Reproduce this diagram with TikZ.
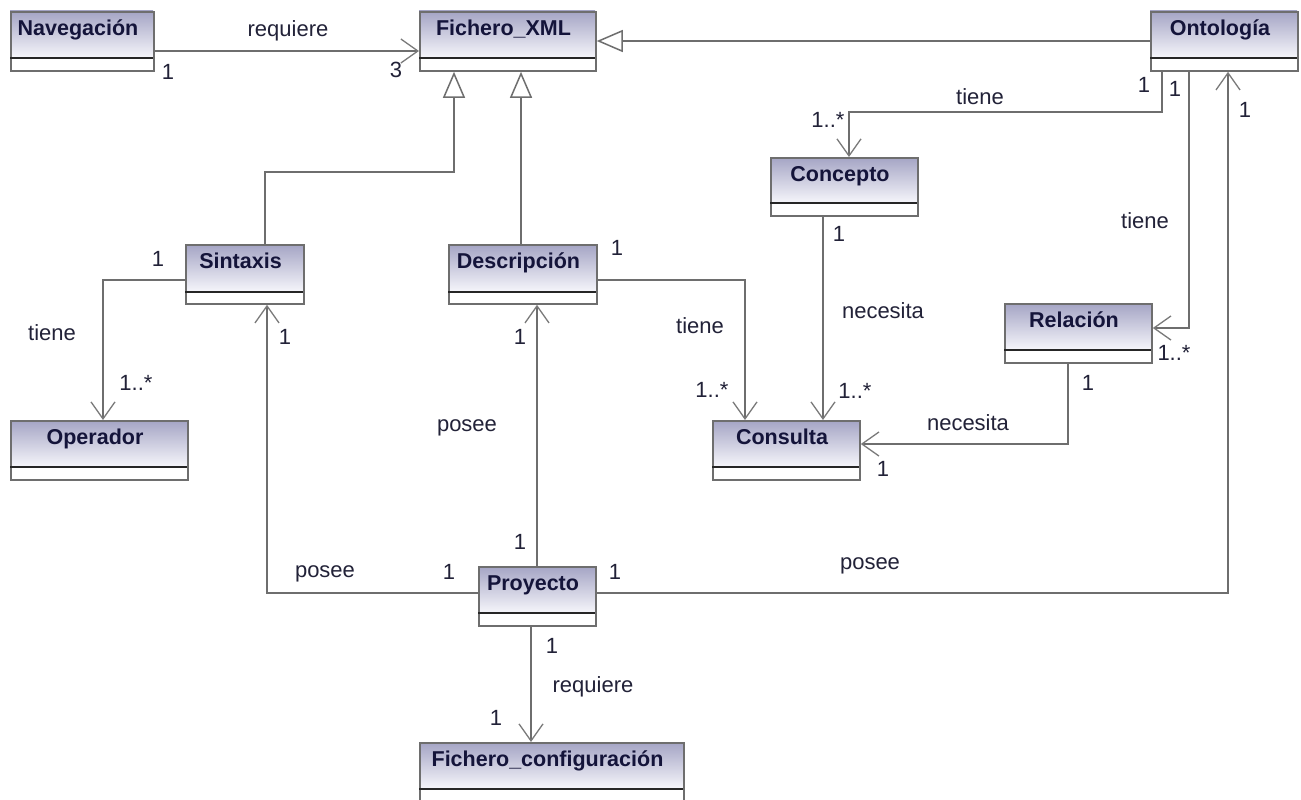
\documentclass[tikz,border=0pt]{standalone}
\usepackage{fontspec}
\setmainfont{Liberation Sans}
\usetikzlibrary{arrows.meta}

\definecolor{boxtop}{HTML}{A4A4C4}
\definecolor{boxbot}{HTML}{F6F6FB}
\definecolor{boxline}{HTML}{6E6E6E}
\definecolor{wire}{HTML}{6E6E6E}
\definecolor{barb}{HTML}{7A7A7A}
\definecolor{nametext}{HTML}{14143A}
\definecolor{labeltext}{HTML}{222238}

\tikzset{
  classframe/.style={draw=boxline, line width=1.8pt, inner sep=0pt},
  divider/.style={draw=black!85, line width=1.8pt},
  classname/.style={inner sep=0pt, text=nametext, font=\fontsize{21.5}{26}\selectfont\bfseries},
  lbl/.style={inner sep=0pt, text=labeltext, font=\fontsize{22}{26}\selectfont},
  assoc/.style={draw=wire, line width=1.8pt,
    -{Straight Barb[length=17pt, width=24pt, line width=1.3pt, color=barb]}},
  gen/.style={draw=wire, line width=1.8pt,
    -{Triangle[fill=white, length=26pt, width=22pt, line width=1.5pt]}},
}

% class box: id, left, top, right, divider, bottom, name
\newcommand\umlclass[7]{%
  \shade[top color=boxtop, bottom color=boxbot] (#2,#3) rectangle (#4,#5);
  \node[classframe, minimum width={#4-#2}, minimum height={#6-#3}, anchor=north west] (#1) at (#2,#3) {};
  \draw[divider] (#2,#5) -- (#4,#5);
  \node[classname, anchor=base] (#1-name) at ({(#2+#4)/2-3.5},{#3+24.5}) {#7};
}

\begin{document}
\begin{tikzpicture}[x=1pt, y=-1pt]
\useasboundingbox[fill=white] (0,0) rectangle (1301,800);

% classes
\umlclass{nav}{10}{11}{153}{58}{70}{Navegación}
\umlclass{fxml}{419}{11}{595}{58}{70}{Fichero\_XML}
\umlclass{onto}{1150}{11}{1297}{58}{70}{Ontología}
\umlclass{conc}{770}{157}{917}{203}{215}{Concepto}
\umlclass{sint}{185}{244}{303}{292}{303}{Sintaxis}
\umlclass{desc}{448}{244}{596}{292}{303}{Descripción}
\umlclass{rel}{1004}{303}{1151}{350}{362}{Relación}
\umlclass{oper}{10}{420}{187}{467}{479}{Operador}
\umlclass{cons}{712}{420}{859}{467}{479}{Consulta}
\umlclass{proy}{478}{566}{595}{613}{625}{Proyecto}
\umlclass{fconf}{419}{742}{683}{789}{803}{Fichero\_configuración}

% generalizations
\draw[gen] (onto.west |- 0,41) -- (fxml.east |- 0,41);
\draw[gen] (sint.north -| 265,0) |- (454,172) -- (fxml.south -| 454,0);
\draw[gen] (desc.north -| 521,0) -- (fxml.south -| 521,0);

% associations
\draw[assoc] (nav.east |- 0,51) -- (fxml.west |- 0,51);
\draw[assoc] (onto.south -| 1162,0) |- (849,112) -- (conc.north -| 849,0);
\draw[assoc] (onto.south -| 1189,0) |- (rel.east |- 0,328);
\draw[assoc] (proy.east |- 0,593) -| (onto.south -| 1228,0);
\draw[assoc] (desc.east |- 0,280) -| (cons.north -| 745,0);
\draw[assoc] (conc.south -| 823,0) -- (cons.north -| 823,0);
\draw[assoc] (rel.south -| 1068,0) |- (cons.east |- 0,444);
\draw[assoc] (sint.west |- 0,280) -| (oper.north -| 103,0);
\draw[assoc] (proy.west |- 0,593) -| (sint.south -| 267,0);
\draw[assoc] (proy.north -| 537,0) -- (desc.south -| 537,0);
\draw[assoc] (proy.south -| 531,0) -- (fconf.north -| 531,0);

% association labels and multiplicities
\node[lbl] (t-req1) at (288,31) {requiere};
\node[lbl] (m-nav) at (168,72) {1};
\node[lbl] (m-fxml) at (396,70) {3};

\node[lbl] (t-tiene1) at (980,97) {tiene};
\node[lbl] (m-conc) at (828,120) {1..*};
\node[lbl] (m-onto1) at (1144,85) {1};
\node[lbl] (m-onto2) at (1175,89) {1};
\node[lbl] (m-onto3) at (1245,110) {1};

\node[lbl] (t-tiene2) at (1145,221) {tiene};
\node[lbl] (m-rel) at (1174,353) {1..*};

\node[lbl] (m-desc) at (617,248) {1};
\node[lbl] (t-tiene3) at (700,326) {tiene};
\node[lbl] (m-cons1) at (712,390) {1..*};

\node[lbl] (m-conc2) at (839,234) {1};
\node[lbl] (t-nec1) at (883,311) {necesita};
\node[lbl] (m-cons2) at (855,391) {1..*};

\node[lbl] (m-rel2) at (1088,383) {1};
\node[lbl] (t-nec2) at (968,423) {necesita};
\node[lbl] (m-cons3) at (883,469) {1};

\node[lbl] (m-sint) at (158,259) {1};
\node[lbl] (t-tiene4) at (52,333) {tiene};
\node[lbl] (m-oper) at (136,383) {1..*};

\node[lbl] (m-sint2) at (285,337) {1};
\node[lbl] (m-desc2) at (520,337) {1};
\node[lbl] (t-posee1) at (467,428) {posee};
\node[lbl] (m-proy1) at (520,542) {1};

\node[lbl] (t-posee2) at (325,574) {posee};
\node[lbl] (m-proy2) at (449,572) {1};
\node[lbl] (m-proy3) at (615,572) {1};
\node[lbl] (t-posee3) at (870,566) {posee};

\node[lbl] (m-proy4) at (552,646) {1};
\node[lbl] (t-req2) at (593,687) {requiere};
\node[lbl] (m-fconf) at (496,718) {1};
\end{tikzpicture}
\end{document}
